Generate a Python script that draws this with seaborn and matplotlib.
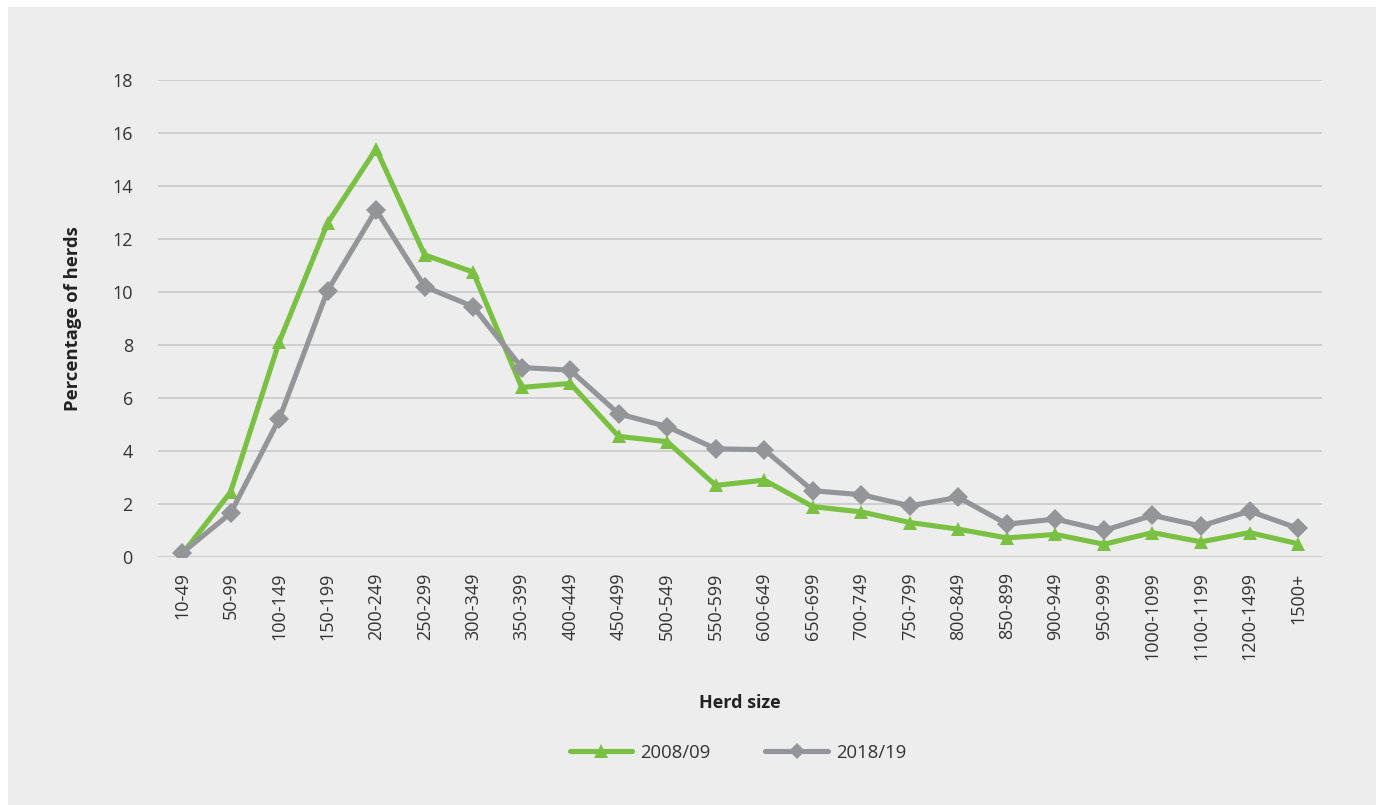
import pandas as pd
import matplotlib.pyplot as plt
import seaborn as sns
from matplotlib.patches import Rectangle
from matplotlib.lines import Line2D

herd_sizes = ['10-49', '50-99', '100-149', '150-199', '200-249', '250-299', '300-349',
              '350-399', '400-449', '450-499', '500-549', '550-599', '600-649', '650-699',
              '700-749', '750-799', '800-849', '850-899', '900-949', '950-999',
              '1000-1099', '1100-1199', '1200-1499', '1500+']
pct_2008 = [0.1, 2.45, 8.1, 12.6, 15.4, 11.4, 10.75, 6.4, 6.55, 4.55, 4.35, 2.7, 2.9,
            1.9, 1.7, 1.3, 1.05, 0.72, 0.85, 0.48, 0.92, 0.57, 0.92, 0.5]
pct_2018 = [0.15, 1.65, 5.2, 10.05, 13.1, 10.2, 9.45, 7.15, 7.05, 5.4, 4.92, 4.08, 4.05,
            2.5, 2.35, 1.93, 2.25, 1.24, 1.43, 1.0, 1.57, 1.17, 1.73, 1.08]
years = ['2008/09', '2018/19']

df = pd.DataFrame({
    'herd_size': herd_sizes * 2,
    'pct': pct_2008 + pct_2018,
    'year': [years[0]] * len(herd_sizes) + [years[1]] * len(herd_sizes),
})

sns.set_theme(style='white')
plt.rcParams['font.family'] = ['Open Sans', 'DejaVu Sans']

green = '#7AC143'
grey = '#939598'
bg = '#EDEDED'

fig = plt.figure(figsize=(13.79, 8.05), dpi=100, facecolor='white')
# light grey panel with a thin white frame on the left/top/right
fig.patches.append(Rectangle((8 / 1379, 0), (1376 - 8) / 1379, (805 - 7) / 805,
                             transform=fig.transFigure, facecolor=bg, edgecolor='none', zorder=-10))
ax = fig.add_axes([0.1144, 0.3081, 0.8445, 0.5925])
ax.set_facecolor(bg)

sns.lineplot(data=df, x='herd_size', y='pct', hue='year', style='year', sort=False,
             palette={years[0]: green, years[1]: grey},
             markers={years[0]: '^', years[1]: 'D'}, dashes=False,
             linewidth=3.7, markersize=10.5, markeredgewidth=0, ax=ax, legend=False, zorder=3)

ax.set_xlim(-0.5, len(herd_sizes) - 0.5)
ax.set_ylim(0, 18)
ax.set_yticks(range(0, 19, 2))
ax.grid(axis='y', color='#C6C6C6', linewidth=1.1)
ax.grid(axis='x', visible=False)
for s in ax.spines.values():
    s.set_visible(False)
ax.tick_params(axis='y', length=0, pad=18, labelsize=13, labelcolor='#333333')
ax.tick_params(axis='x', length=0, pad=11, labelsize=13, labelcolor='#333333', rotation=90)

ax.set_xlabel('Herd size', fontsize=13, fontweight='bold', color='#222222', labelpad=24)
ax.set_ylabel('Percentage of herds', fontsize=13.3, fontweight='bold', color='#222222', labelpad=22)

handles = [Line2D([], [], color=green, lw=3.7, marker='^', markersize=10.5, markeredgewidth=0),
           Line2D([], [], color=grey, lw=3.7, marker='D', markersize=8.5, markeredgewidth=0)]
fig.legend(handles, years, loc='center', bbox_to_anchor=(0.535, 0.065), ncol=2,
           frameon=False, fontsize=13.3, handlelength=3.4, handletextpad=0.4,
           columnspacing=3.0, labelcolor='#333333')

fig.savefig('out.png', dpi=100, facecolor='white')
